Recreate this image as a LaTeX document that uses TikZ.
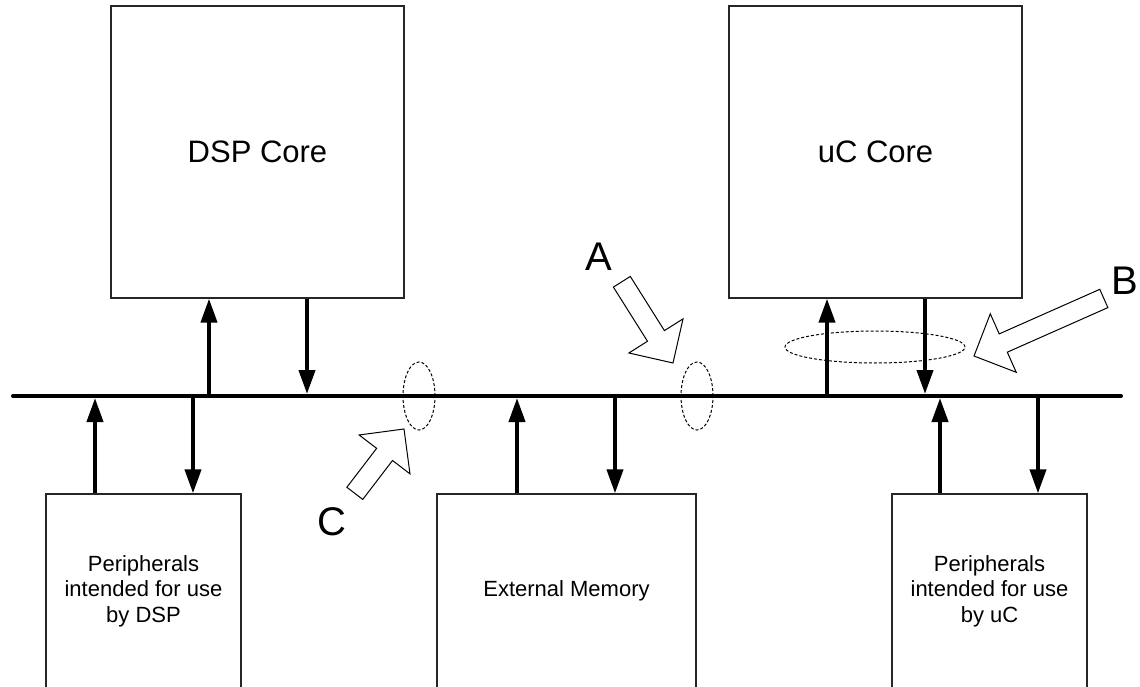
\documentclass[tikz,border=0pt]{standalone}
\usepackage{fontspec}
\setmainfont{Liberation Sans}
\usetikzlibrary{arrows.meta}
\newcommand{\hollowarr}[3]{%
  \draw[hollow, shift={#1}, rotate=#2] (0,0) -- (-32,32) -- (-32,10) -- (-#3,10) -- (-#3,-10) -- (-32,-10) -- (-32,-32) -- cycle;}
\begin{document}
\begin{tikzpicture}[x=1pt,y=-1pt,
  box/.style={draw=black!85, line width=1.3pt, inner sep=0pt, fill=white},
  coretext/.style={font=\fontsize{31}{36}\selectfont},
  smalltext/.style={font=\fontsize{22}{25.5}\selectfont, align=center, inner sep=0pt},
  letter/.style={font=\fontsize{40}{46}\selectfont, inner sep=0pt},
  bus/.style={line width=4pt, line cap=round},
  sig/.style={line width=4pt, -{Triangle[length=24pt,width=16pt]}},
  hollow/.style={draw=black, line width=1pt, fill=white, line join=miter},
  dashell/.style={draw=black, line width=1pt, dash pattern=on 3pt off 2pt}]
\useasboundingbox (0,0) rectangle (1140,687);
\clip (0,0) rectangle (1140,687);

% boxes
\node[box, coretext, minimum width=293pt, minimum height=292pt] (dsp) at (257.5,152) {DSP Core};
\node[box, coretext, minimum width=293pt, minimum height=292pt] (uc) at (875.5,152) {uC Core};
\node[box, minimum width=195pt, minimum height=220pt] (pdsp) at (143.5,604) {};
\node[smalltext] (pdsptext) at (143.5,591) {Peripherals\\intended for use\\by DSP};
\node[box, minimum width=259pt, minimum height=220pt] (ext) at (566.5,604) {};
\node[smalltext] (exttext) at (566.5,591) {External Memory};
\node[box, minimum width=195pt, minimum height=220pt] (puc) at (989.5,604) {};
\node[smalltext] (puctext) at (989.5,591) {Peripherals\\intended for use\\by uC};

% bus
\coordinate (busL) at (13,396);
\coordinate (busR) at (1121,396);
\draw[bus] (busL) -- (busR);

% bus taps
\coordinate (t1) at (95,396);
\coordinate (t2) at (193,396);
\coordinate (t3) at (209,396);
\coordinate (t4) at (307,396);
\coordinate (t5) at (517,396);
\coordinate (t6) at (615,396);
\coordinate (t7) at (827,396);
\coordinate (t8) at (925,396);
\coordinate (t9) at (940,396);
\coordinate (t10) at (1038,396);

\draw[sig] (t3) -- (t3 |- dsp.south);
\draw[sig, shorten >=2pt] (t4 |- dsp.south) -- (t4);
\draw[sig] (t7) -- (t7 |- uc.south);
\draw[sig, shorten >=2pt] (t8 |- uc.south) -- (t8);
\draw[sig, shorten >=2pt] (t1 |- pdsp.north) -- (t1);
\draw[sig] (t2) -- (t2 |- pdsp.north);
\draw[sig, shorten >=2pt] (t5 |- ext.north) -- (t5);
\draw[sig] (t6) -- (t6 |- ext.north);
\draw[sig, shorten >=2pt] (t9 |- puc.north) -- (t9);
\draw[sig] (t10) -- (t10 |- puc.north);

% dashed ellipses
\draw[dashell] (419,396) ellipse [x radius=16pt, y radius=34pt];
\draw[dashell] (697,396) ellipse [x radius=16pt, y radius=34pt];
\draw[dashell] (875,347) ellipse [x radius=90pt, y radius=16pt];

% hollow arrows
\hollowarr{(673,363)}{-57.8}{96}
\hollowarr{(974,356)}{203.9}{142}
\hollowarr{(404,429)}{52.6}{81}

% letters
\node[letter] (lA) at (599,257) {A};
\node[letter] (lB) at (1125,281) {B};
\node[letter] (lC) at (332,522) {C};
\end{tikzpicture}
\end{document}
